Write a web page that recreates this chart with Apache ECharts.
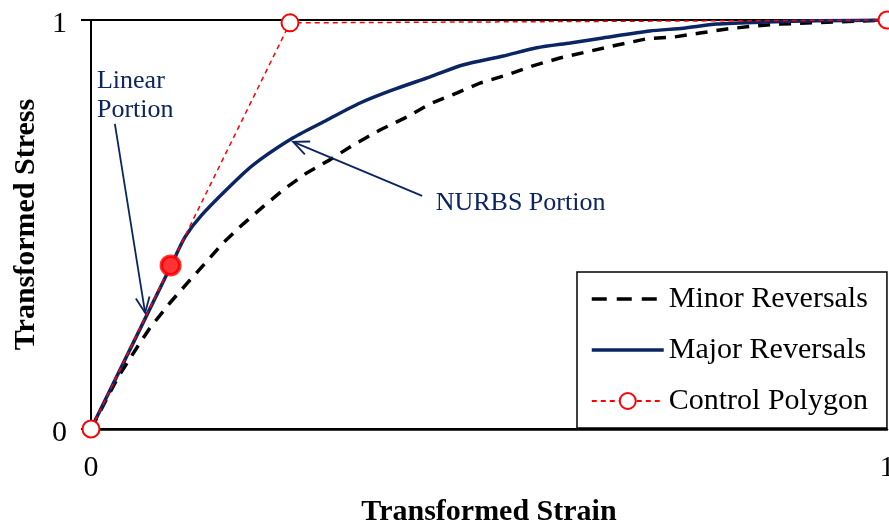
<!DOCTYPE html>
<html>
<head>
<meta charset="utf-8">
<script src="https://cdn.jsdelivr.net/npm/echarts@6/dist/echarts.min.js"></script>
<style>html,body{margin:0;padding:0;background:#fff;}#c{width:889px;height:527px;}</style>
</head>
<body>
<div id="c"></div>
<script>
// ---- data ----
const majorX = [0, 0.1005, 0.118, 0.139, 0.191, 0.212, 0.254, 0.296, 0.338, 0.379, 0.426, 0.467, 0.518, 0.560, 0.602, 0.643, 0.702, 0.744, 0.786, 0.849, 0.912, 1];
const majorY = [0, 0.399, 0.469, 0.523, 0.624, 0.658, 0.712, 0.755, 0.797, 0.829, 0.861, 0.890, 0.912, 0.932, 0.944, 0.956, 0.973, 0.980, 0.990, 0.995, 0.998, 1];
const minorX = [0, 0.034, 0.058, 0.074, 0.099, 0.122, 0.146, 0.166, 0.191, 0.217, 0.241, 0.271, 0.300, 0.329, 0.363, 0.397, 0.426, 0.460, 0.489, 0.523, 0.555, 0.589, 0.627, 0.661, 0.698, 0.731, 0.765, 0.799, 0.832, 0.866, 0.932, 1];
const minorY = [0, 0.127, 0.200, 0.247, 0.308, 0.359, 0.411, 0.455, 0.501, 0.545, 0.584, 0.626, 0.658, 0.694, 0.731, 0.763, 0.795, 0.822, 0.846, 0.866, 0.888, 0.907, 0.924, 0.939, 0.954, 0.958, 0.968, 0.978, 0.985, 0.990, 0.995, 1];
const polyX = [0, 0.1, 0.25, 1];
const polyY = [0, 0.4, 0.993, 1];
const junctionX = [0.1];
const junctionY = [0.4];
const seriesNames = ['Minor Reversals', 'Major Reversals', 'Control Polygon'];
const xTicks = ['0', '1'];
const yTicks = ['0', '1'];
const xTitle = 'Transformed Strain';
const yTitle = 'Transformed Stress';
const noteLinear = ['Linear', 'Portion'];
const noteNurbs = 'NURBS Portion';

const zip = (a, b) => a.map((v, i) => [v, b[i]]);
const FONT = '"Liberation Serif", "Times New Roman", serif';
const NAVY = '#0B2462';
const HIDE = {color: 'rgba(0,0,0,0)', borderColor: 'rgba(0,0,0,0)', borderWidth: 0};

const chart = echarts.init(document.getElementById('c'), null, {renderer: 'canvas'});
const option = {
  animation: false,
  backgroundColor: '#fff',
  grid: {left: 91, right: 2, top: 20, bottom: 98, outerBoundsMode: 'none', containLabel: false},
  xAxis: {
    type: 'value', min: 0, max: 1, interval: 1,
    axisLine: {lineStyle: {color: '#000', width: 2.5}},
    axisTick: {show: false},
    splitLine: {show: false},
    axisLabel: {fontFamily: FONT, fontSize: 30, color: '#000', margin: 24,
      formatter: v => xTicks[Math.round(v)]},
    name: xTitle, nameLocation: 'middle', nameGap: 68,
    nameTextStyle: {fontFamily: FONT, fontSize: 30, fontWeight: 'bold', color: '#000'}
  },
  yAxis: {
    type: 'value', min: 0, max: 1, interval: 1,
    axisLine: {show: true, lineStyle: {color: '#000', width: 2}},
    axisTick: {show: true, length: 10, lineStyle: {color: '#000', width: 2}},
    splitLine: {show: true, lineStyle: {color: '#000', width: 2}},
    axisLabel: {fontFamily: FONT, fontSize: 30, color: '#000', margin: 24,
      formatter: v => '{a|' + yTicks[Math.round(v)] + '}',
      rich: {a: {fontFamily: FONT, fontSize: 30, color: '#000', padding: [9, 0, 0, 0]}}},
    name: yTitle, nameLocation: 'middle', nameGap: 50,
    nameTextStyle: {fontFamily: FONT, fontSize: 30, fontWeight: 'bold', color: '#000'}
  },
  legend: {
    orient: 'vertical', left: 577, top: 272,
    padding: [12, 19, 12, 13], itemGap: 21,
    itemWidth: 72, itemHeight: 20,
    borderColor: '#000', borderWidth: 1.5, backgroundColor: '#fff',
    data: [
      {name: seriesNames[0], itemStyle: HIDE, lineStyle: {width: 3.5, type: [15, 10], color: '#000'}},
      {name: seriesNames[1], itemStyle: HIDE, lineStyle: {width: 3.5, color: NAVY}},
      {name: seriesNames[2]}
    ],
    textStyle: {fontFamily: FONT, fontSize: 30, color: '#000'}
  },
  series: [
    {
      name: seriesNames[0], type: 'line', data: zip(minorX, minorY),
      symbol: 'circle', showSymbol: false, z: 3,
      lineStyle: {color: '#000', width: 3.5, type: [12, 9]},
      itemStyle: {color: '#000'}
    },
    {
      name: seriesNames[1], type: 'line', data: zip(majorX, majorY),
      symbol: 'circle', showSymbol: false, z: 4, smooth: 0.25,
      lineStyle: {color: NAVY, width: 3.5},
      itemStyle: {color: NAVY}
    },
    {
      name: seriesNames[2], type: 'line', data: zip(polyX, polyY),
      symbol: 'emptyCircle', symbolSize: 17, z: 5,
      lineStyle: {color: '#FF0000', width: 1.5, type: [5, 4]},
      itemStyle: {color: '#FF0000', borderColor: '#FF0000', borderWidth: 3}
    },
    {
      type: 'scatter', data: zip(junctionX, junctionY),
      symbol: 'circle', symbolSize: 22, z: 6,
      itemStyle: {color: '#FF0000'}
    }
  ]
};
chart.setOption(option);

// annotations in data coordinates
function px(p) { return chart.convertToPixel({gridIndex: 0}, p); }
function arrow(from, to) {
  const a = px(from), b = px(to);
  const ang = Math.atan2(b[1] - a[1], b[0] - a[0]);
  const L = 17, spread = 0.42;
  const h1 = [b[0] - L * Math.cos(ang - spread), b[1] - L * Math.sin(ang - spread)];
  const h2 = [b[0] - L * Math.cos(ang + spread), b[1] - L * Math.sin(ang + spread)];
  return [
    {type: 'polyline', z: 10, shape: {points: [a, b]}, style: {stroke: NAVY, lineWidth: 1.8, fill: null}},
    {type: 'polyline', z: 10, shape: {points: [h1, b, h2]}, style: {stroke: NAVY, lineWidth: 1.8, fill: null}}
  ];
}
const tLin = px([0.0075, 0.850]);
const tLin2 = px([0.0075, 0.779]);
const tNurbs = px([0.433, 0.553]);
chart.setOption({
  graphic: [
    ...arrow([0.030, 0.746], [0.068, 0.284]),
    ...arrow([0.416, 0.570], [0.254, 0.702]),
    {type: 'text', z: 10, x: tLin[0], y: tLin[1], style: {text: noteLinear[0], font: '26px ' + FONT, fill: NAVY, textVerticalAlign: 'middle'}},
    {type: 'text', z: 10, x: tLin2[0], y: tLin2[1], style: {text: noteLinear[1], font: '26px ' + FONT, fill: NAVY, textVerticalAlign: 'middle'}},
    {type: 'text', z: 10, x: tNurbs[0], y: tNurbs[1], style: {text: noteNurbs, font: '26px ' + FONT, fill: NAVY, textVerticalAlign: 'middle'}}
  ]
});
</script>
</body>
</html>
